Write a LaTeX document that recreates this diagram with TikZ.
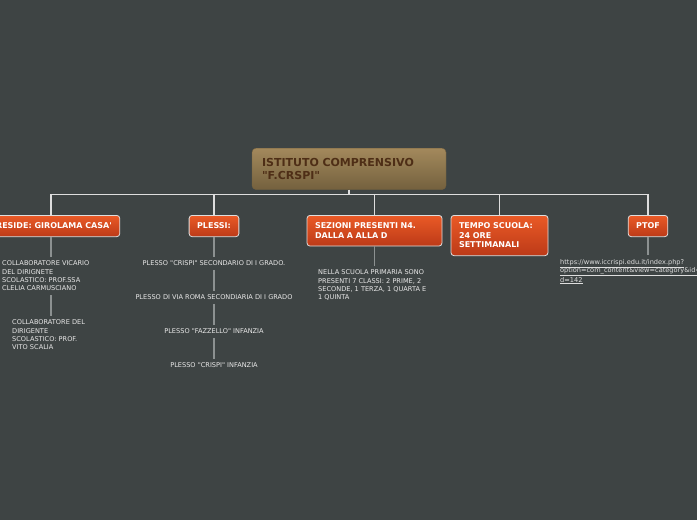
\documentclass[tikz,border=0pt]{standalone}
\usepackage{fontspec}
\setmainfont{DejaVu Sans}[Ligatures=TeXOff]
\definecolor{board}{RGB}{62,68,68}
\definecolor{rootTop}{RGB}{163,137,92}
\definecolor{rootBottom}{RGB}{116,97,62}
\definecolor{rootText}{RGB}{78,46,22}
\definecolor{branchTop}{RGB}{234,90,38}
\definecolor{branchBottom}{RGB}{188,58,24}
\definecolor{rim}{RGB}{222,222,222}
\definecolor{twigGray}{RGB}{140,145,145}
\definecolor{noteText}{RGB}{232,232,232}
\tikzstyle{central}=[draw=rootBottom, rounded corners=4pt, top color=rootTop, bottom color=rootBottom, text=rootText, font=\fontsize{11}{13}\selectfont\bfseries, align=left, text width=174pt, inner xsep=10pt, inner ysep=10pt]
\tikzstyle{branch}=[draw=rim, line width=0.8pt, rounded corners=3pt, top color=branchTop, bottom color=branchBottom, text=white, font=\fontsize{8}{9.5}\selectfont\bfseries, align=left, inner xsep=8pt, inner ysep=7.6pt]
\tikzstyle{note}=[text=noteText, font=\fontsize{6.6}{8.4}\selectfont, inner sep=4pt]
\tikzstyle{bus}=[draw=rim, line width=1.2pt]
\tikzstyle{twig}=[draw=twigGray, line width=1.5pt]

\begin{document}
\begin{tikzpicture}[x=1pt, y=-1pt]
    \clip (0,0) rectangle (697,520);
    \fill[board] (0,0) rectangle (697,520);
% Main topic
    \node[central, anchor=north] (root) at (349,148) {ISTITUTO COMPRENSIVO\\"F.CRSPI"};
% Branches
    \node[branch, anchor=north] (preside) at (51,215) {PRESIDE: GIROLAMA CASA'};
    \node[branch, anchor=north] (plessi) at (214,215) {PLESSI:};
    \node[branch, anchor=north, text width=119pt] (sezioni) at (374.5,215) {SEZIONI PRESENTI N4.\\DALLA A ALLA D};
    \node[branch, anchor=north, text width=81pt] (tempo) at (499.5,215) {TEMPO SCUOLA:\\24 ORE\\SETTIMANALI};
    \node[branch, anchor=north] (ptof) at (648,215) {PTOF};
% Notes
    \node[note, anchor=north west, align=left] (vicario) at (-2,256.5) {COLLABORATORE VICARIO\\DEL DIRIGNETE\\SCOLASTICO: PROF.SSA\\CLELIA CARMUSCIANO};
    \node[note, anchor=north west, align=left] (scalia) at (8,315.5) {COLLABORATORE DEL\\DIRIGENTE\\SCOLASTICO: PROF.\\VITO SCALIA};
    \node[note, anchor=north] (crispisec) at (214,256.5) {PLESSO "CRISPI" SECONDARIO DI I GRADO.};
    \node[note, anchor=north] (viaroma) at (214,290.5) {PLESSO DI VIA ROMA SECONDIARIA DI I GRADO};
    \node[note, anchor=north] (fazzello) at (214,324.5) {PLESSO "FAZZELLO" INFANZIA};
    \node[note, anchor=north] (crispiinf) at (214,358.5) {PLESSO "CRISPI" INFANZIA};
    \node[note, anchor=north west, align=left] (classi) at (314,265.5) {NELLA SCUOLA PRIMARIA SONO\\PRESENTI 7 CLASSI: 2 PRIME, 2\\SECONDE, 1 TERZA, 1 QUARTA E\\1 QUINTA};
    \node[note, anchor=north west, align=left, text=noteText!90!gray] (link) at (556,255) {\underline{https://www.iccrispi.edu.it/index.php?}\\\underline{option=com\_content\&view=category\&id=}\\\underline{d=142}};
% Bus
    \path (root.south) ++(0,4.5) coordinate (hub);
    \draw[bus] (root.south) -- (hub);
    \draw[bus] (hub -| preside.north) -- (hub -| ptof.north);
    \foreach \b in {preside, plessi, sezioni, tempo, ptof}
        \draw[bus] (hub -| \b.north) -- (\b.north);
% Twigs
    \draw[twig] (preside.south) -- (preside.south |- vicario.north);
    \draw[twig] (preside.south |- vicario.south) -- (preside.south |- scalia.north);
    \draw[twig] (plessi.south) -- (crispisec.north);
    \draw[twig] (crispisec) -- (viaroma);
    \draw[twig] (viaroma) -- (fazzello);
    \draw[twig] (fazzello) -- (crispiinf);
    \draw[twig] (sezioni.south) -- (sezioni.south |- classi.north);
    \draw[twig] (ptof.south) -- (ptof.south |- link.north);
\end{tikzpicture}
\end{document}
